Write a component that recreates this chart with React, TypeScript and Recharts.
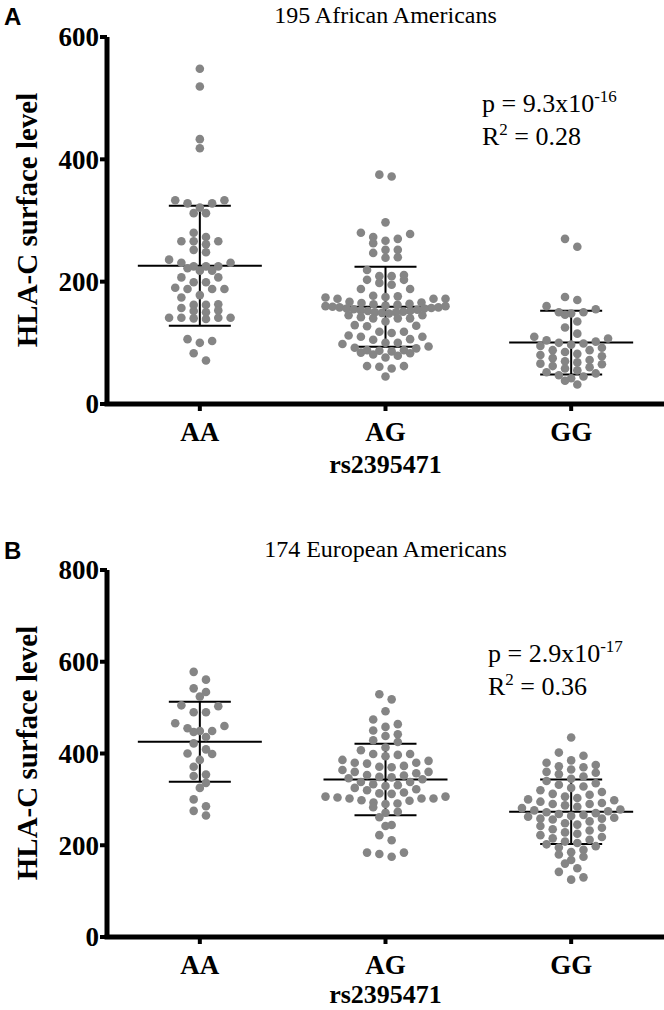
import React from 'react';
import { ScatterChart, Scatter, XAxis, YAxis, ReferenceLine } from 'recharts';

// ---------- data ----------
const categories = ['AA', 'AG', 'GG'];

// Panel A: 195 African Americans
const aaA = [548, 519, 433, 418, 333, 333, 328, 328, 321, 312, 312, 280, 273, 266, 261, 266, 266, 252, 248, 236, 231, 231, 225, 225, 218, 218, 222, 207, 207, 199, 199, 188, 190, 188, 188, 174, 178, 162, 162, 163, 152, 150, 141, 141, 140, 139, 141, 141, 103, 100, 106, 83, 71, 225, 153, 157];
const agA = [375, 372, 297, 280, 273, 270, 278, 267, 263, 252, 247, 252, 240, 239, 219, 211, 209, 203, 195, 198, 203, 209, 188, 188, 176, 174, 172, 172, 172, 175, 177, 167, 166, 165, 164, 163, 162, 161, 160, 160, 159, 158, 158, 157, 156, 156, 155, 154, 153, 152, 152, 151, 150, 150, 149, 148, 145, 140, 135, 128, 127, 129, 140, 140, 142, 145, 118, 116, 110, 105, 100, 100, 98, 106, 110, 112, 118, 94, 91, 88, 86, 83, 79, 76, 81, 84, 87, 88, 92, 62, 61, 58, 62, 45];
const ggA = [270, 257, 175, 170, 160, 155, 150, 150, 148, 146, 135, 125, 115, 110, 107, 104, 102, 100, 99, 97, 95, 92, 88, 88, 85, 82, 80, 78, 75, 72, 70, 68, 66, 65, 62, 60, 58, 55, 52, 50, 47, 45, 42, 38, 32];

// Panel B: 174 European Americans
const aaB = [578, 561, 542, 534, 524, 505, 503, 490, 490, 466, 460, 449, 447, 449, 455, 436, 422, 409, 400, 399, 386, 371, 354, 351, 336, 325, 300, 285, 275, 265];
const agB = [529, 518, 492, 474, 464, 458, 450, 442, 438, 429, 425, 413, 407, 399, 399, 397, 394, 386, 384, 380, 380, 378, 373, 371, 370, 364, 360, 360, 357, 353, 352, 349, 348, 346, 344, 338, 338, 333, 331, 329, 325, 322, 320, 315, 313, 312, 306, 306, 304, 302, 302, 302, 298, 297, 293, 291, 290, 283, 273, 271, 261, 244, 242, 222, 211, 184, 184, 181, 175];
const ggB = [435, 402, 395, 385, 380, 375, 372, 370, 365, 360, 358, 355, 350, 345, 340, 335, 332, 328, 325, 320, 316, 312, 310, 306, 303, 300, 298, 295, 292, 290, 290, 287, 284, 281, 278, 276, 274, 272, 270, 268, 266, 264, 262, 260, 258, 258, 256, 252, 248, 245, 242, 238, 235, 232, 228, 225, 222, 218, 215, 212, 208, 205, 202, 198, 195, 190, 185, 180, 175, 168, 160, 150, 142, 130, 125];

const yTicksA = [0, 200, 400, 600];
const yTicksB = [0, 200, 400, 600, 800];
const xTicks = [0.5, 1.5, 2.5];

// ---------- style ----------
const SERIF = '"Liberation Serif", "Times New Roman", serif';
const SANS = '"Liberation Sans", Arial, sans-serif';
const DOT = '#858585';
const W = 664;
const PLOT_LEFT = 107;

// Prism-like row layout: horizontal offsets (px) for each point
function swarm(values: number[], ppu: number): number[] {
  const bin = 8;
  const spacing = 12.3;
  const maxHalf = 60;
  const idx = values.map((_, i) => i).sort((a, b) => values[b] - values[a]);
  const dx = new Array(values.length).fill(0);
  let i = 0;
  while (i < idx.length) {
    const start = values[idx[i]];
    const row: number[] = [];
    while (i < idx.length && (start - values[idx[i]]) * ppu < bin) {
      row.push(idx[i]);
      i++;
    }
    row.sort((a, b) => values[a] - values[b]);
    const n = row.length;
    const s = n > 1 ? Math.min(spacing, (2 * maxHalf) / (n - 1)) : 0;
    const slots: number[] = [];
    for (let k = 0; k < n; k++) slots.push((k - (n - 1) / 2) * s);
    slots.sort((a, b) => Math.abs(a) - Math.abs(b) || b - a);
    row.forEach((pi, j) => (dx[pi] = slots[j]));
  }
  return dx;
}

function stats(v: number[]) {
  const m = v.reduce((a, b) => a + b, 0) / v.length;
  const sd = Math.sqrt(v.reduce((a, b) => a + (b - m) * (b - m), 0) / (v.length - 1));
  return { m, sd };
}

const Dot = (props: any) => {
  const { cx, cy, payload } = props;
  if (cx == null || cy == null) return null;
  const dx = (payload && payload.dx) ?? props.dx ?? 0;
  return <circle cx={cx + dx} cy={cy} r={4.3} fill={DOT} />;
};

const XTick = (props: any) => {
  const { x, y, payload } = props;
  return (
    <text x={x} y={y + 28} textAnchor="middle" fontFamily={SERIF} fontWeight="bold" fontSize={27} fill="#000">
      {categories[Math.floor(payload.value)]}
    </text>
  );
};

const YTick = (props: any) => {
  const { x, y, payload } = props;
  return (
    <text x={x} y={y} dy="0.35em" textAnchor="end" fontFamily={SERIF} fontWeight="bold" fontSize={27} fill="#000">
      {payload.value}
    </text>
  );
};

type PanelProps = {
  groups: number[][];
  yMax: number;
  yTicks: number[];
  height: number;
  plotTop: number;
  plotBottom: number;
};

function Panel({ groups, yMax, yTicks, height, plotTop, plotBottom }: PanelProps) {
  const ppu = (plotBottom - plotTop) / yMax;
  const unitPx = (W - PLOT_LEFT) / 3;
  const meanHalf = 62 / unitPx;
  const sdHalf = 31 / unitPx;
  const data = groups.map((vals, gi) => {
    const dx = swarm(vals, ppu);
    return vals.map((v, i) => ({ x: gi + 0.5, y: v, dx: dx[i] }));
  });
  const st = groups.map(stats);
  return (
    <ScatterChart
      width={W}
      height={height}
      margin={{ top: plotTop, right: 0, bottom: height - plotBottom - 30, left: PLOT_LEFT - 70 }}
    >
      <XAxis
        type="number"
        dataKey="x"
        domain={[0, 3]}
        ticks={xTicks}
        interval={0}
        height={30}
        allowDataOverflow
        axisLine={{ stroke: '#000', strokeWidth: 5, strokeLinecap: 'square' }}
        tickLine={{ stroke: '#000', strokeWidth: 4 }}
        tickSize={7}
        tickMargin={2}
        tick={(p: any) => <XTick {...p} />}
      />
      <YAxis
        type="number"
        dataKey="y"
        domain={[0, yMax]}
        ticks={yTicks}
        interval={0}
        width={70}
        allowDataOverflow
        axisLine={{ stroke: '#000', strokeWidth: 5 }}
        tickLine={{ stroke: '#000', strokeWidth: 4 }}
        tickSize={7}
        tickMargin={1}
        tick={(p: any) => <YTick {...p} />}
      />
      {data.map((d, gi) => (
        <Scatter key={'s' + gi} data={d} isAnimationActive={false} shape={Dot} />
      ))}
      {st.map((s, gi) => {
        const c = gi + 0.5;
        return (
          <React.Fragment key={'r' + gi}>
            <ReferenceLine segment={[{ x: c - meanHalf, y: s.m }, { x: c + meanHalf, y: s.m }]} stroke="#000" strokeWidth={2} />
            <ReferenceLine segment={[{ x: c - sdHalf, y: s.m + s.sd }, { x: c + sdHalf, y: s.m + s.sd }]} stroke="#000" strokeWidth={2} />
            <ReferenceLine segment={[{ x: c - sdHalf, y: s.m - s.sd }, { x: c + sdHalf, y: s.m - s.sd }]} stroke="#000" strokeWidth={2} />
            <ReferenceLine segment={[{ x: c, y: s.m - s.sd }, { x: c, y: s.m + s.sd }]} stroke="#000" strokeWidth={2} />
          </React.Fragment>
        );
      })}
    </ScatterChart>
  );
}

const Sup = ({ children }: { children: React.ReactNode }) => (
  <tspan dy={-10} fontSize={17}>{children}</tspan>
);

export default function App() {
  const cx = (PLOT_LEFT + W) / 2;
  return (
    <div style={{ position: 'absolute', left: 0, top: 0, width: W, height: 1010, background: '#fff', overflow: 'hidden' }}>
      <div style={{ position: 'absolute', left: 0, top: 0 }}>
        <Panel groups={[aaA, agA, ggA]} yMax={600} yTicks={yTicksA} height={490} plotTop={37} plotBottom={404} />
      </div>
      <div style={{ position: 'absolute', left: 0, top: 490 }}>
        <Panel groups={[aaB, agB, ggB]} yMax={800} yTicks={yTicksB} height={520} plotTop={80} plotBottom={447} />
      </div>
      <svg width={W} height={1010} style={{ position: 'absolute', left: 0, top: 0, pointerEvents: 'none' }}>
        {/* Panel A texts */}
        <text x={4} y={25} fontFamily={SANS} fontWeight="bold" fontSize={24} fill="#000">A</text>
        <text x={cx} y={23} textAnchor="middle" fontFamily={SERIF} fontSize={24} fill="#000">195 African Americans</text>
        <text x={37} y={220} transform="rotate(-90 37 220)" textAnchor="middle" fontFamily={SERIF} fontWeight="bold" fontSize={29} fill="#000">HLA-C surface level</text>
        <text x={482} y={112} fontFamily={SERIF} fontSize={26} fill="#000">p = 9.3x10<Sup>-16</Sup></text>
        <text x={482} y={145} fontFamily={SERIF} fontSize={26} fill="#000">R<Sup>2</Sup><tspan dy={10}> = 0.28</tspan></text>
        <text x={cx} y={473} textAnchor="middle" fontFamily={SERIF} fontWeight="bold" fontSize={26} fill="#000">rs2395471</text>
        {/* Panel B texts */}
        <text x={4} y={559} fontFamily={SANS} fontWeight="bold" fontSize={24} fill="#000">B</text>
        <text x={cx} y={557} textAnchor="middle" fontFamily={SERIF} fontSize={24} fill="#000">174 European Americans</text>
        <text x={37} y={753} transform="rotate(-90 37 753)" textAnchor="middle" fontFamily={SERIF} fontWeight="bold" fontSize={29} fill="#000">HLA-C surface level</text>
        <text x={488} y={662} fontFamily={SERIF} fontSize={26} fill="#000">p = 2.9x10<Sup>-17</Sup></text>
        <text x={488} y={695} fontFamily={SERIF} fontSize={26} fill="#000">R<Sup>2</Sup><tspan dy={10}> = 0.36</tspan></text>
        <text x={cx} y={1003} textAnchor="middle" fontFamily={SERIF} fontWeight="bold" fontSize={26} fill="#000">rs2395471</text>
      </svg>
    </div>
  );
}
